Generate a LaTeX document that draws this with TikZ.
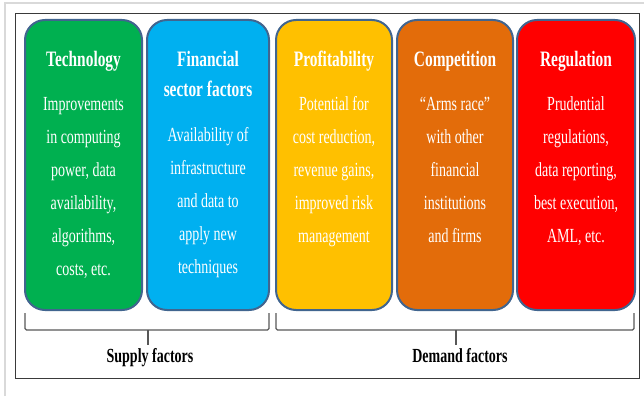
\documentclass[tikz,border=0pt]{standalone}
\usepackage{fontspec}
\newfontfamily\narrow[FakeStretch=0.70]{Liberation Serif}
\definecolor{cgreen}{HTML}{00B050}
\definecolor{cblue}{HTML}{00B0F0}
\definecolor{cyellow}{HTML}{FFC000}
\definecolor{corange}{HTML}{E36C0A}
\definecolor{cred}{HTML}{FF0000}
\definecolor{cborder}{HTML}{41658F}
\definecolor{cframe}{HTML}{3A3A3A}
\definecolor{cgray}{HTML}{D9D9D9}
\newcommand{\fs}{\rule{0pt}{14pt}}
\tikzset{
  factorbox/.style={draw=cborder, line width=2pt, rounded corners=20pt, minimum height=290pt, inner sep=0pt},
  titletext/.style={text=white, font=\narrow\bfseries\fontsize{22}{30}\selectfont, align=center, anchor=north, inner sep=0pt},
  bodytext/.style={text=white, font=\narrow\fontsize{20}{33}\selectfont, align=center, anchor=north, inner sep=0pt},
  bracket/.style={draw=cframe!85, line width=1.2pt, rounded corners=1.5pt},
  grouplabel/.style={font=\narrow\bfseries\fontsize{20}{24}\selectfont, anchor=base, inner sep=0pt}
}
\begin{document}
\begin{tikzpicture}[x=1pt, y=-1pt]
\useasboundingbox (0,0) rectangle (644,396);
% light outer page edges
\draw[cgray, line width=1.5pt] (5,396) -- (5,3) -- (644,3);
% frame
\node[draw=cframe, line width=1.3pt, minimum width=624pt, minimum height=365pt, inner sep=0pt] (frame) at (327.5,196) {};
% boxes
\node[factorbox, fill=cgreen, minimum width=117pt] (tech) at (83.5,165) {};
\node[factorbox, fill=cblue, minimum width=122pt] (fin) at (208,165) {};
\node[factorbox, fill=cyellow, minimum width=116pt] (prof) at (334,165) {};
\node[factorbox, fill=corange, minimum width=116pt] (comp) at (455,165) {};
\node[factorbox, fill=cred, minimum width=118pt] (reg) at (576,165) {};
% titles
\node[titletext] (techT) at (83.5,51) {\fs Technology};
\node[titletext] (finT) at (208,51) {\fs Financial\\sector factors};
\node[titletext] (profT) at (334,51) {\fs Profitability};
\node[titletext] (compT) at (455,51) {\fs Competition};
\node[titletext] (regT) at (576,51) {\fs Regulation};
% bodies
\node[bodytext] (techB) at (83.5,96.5) {\fs Improvements\\in computing\\power, data\\availability,\\algorithms,\\costs, etc.};
\node[bodytext] (finB) at (208,127) {\fs Availability of\\infrastructure\\and data to\\apply new\\techniques};
\node[bodytext] (profB) at (334,96.5) {\fs Potential for\\cost reduction,\\revenue gains,\\improved risk\\management};
\node[bodytext] (compB) at (455,96.5) {\fs “Arms race”\\with other\\financial\\institutions\\and firms};
\node[bodytext] (regB) at (576,96.5) {\fs Prudential\\regulations,\\data reporting,\\best execution,\\AML, etc.};
% brackets
\coordinate (s1) at (25,313);
\coordinate (s2) at (269,313);
\coordinate (d1) at (276,313);
\coordinate (d2) at (634,313);
\coordinate (sm) at (148,330);
\coordinate (dm) at (456,330);
\draw[bracket] (s1) -- (25,330) -- (269,330) -- (s2);
\draw[bracket] (d1) -- (276,330) -- (634,330) -- (d2);
\draw[cframe!85, line width=1.2pt] (sm) -- (148,345);
\draw[cframe!85, line width=1.2pt] (dm) -- (456,345);
% group labels
\node[grouplabel] (supply) at (150,362) {Supply factors};
\node[grouplabel] (demand) at (460,362) {Demand factors};
\end{tikzpicture}
\end{document}
